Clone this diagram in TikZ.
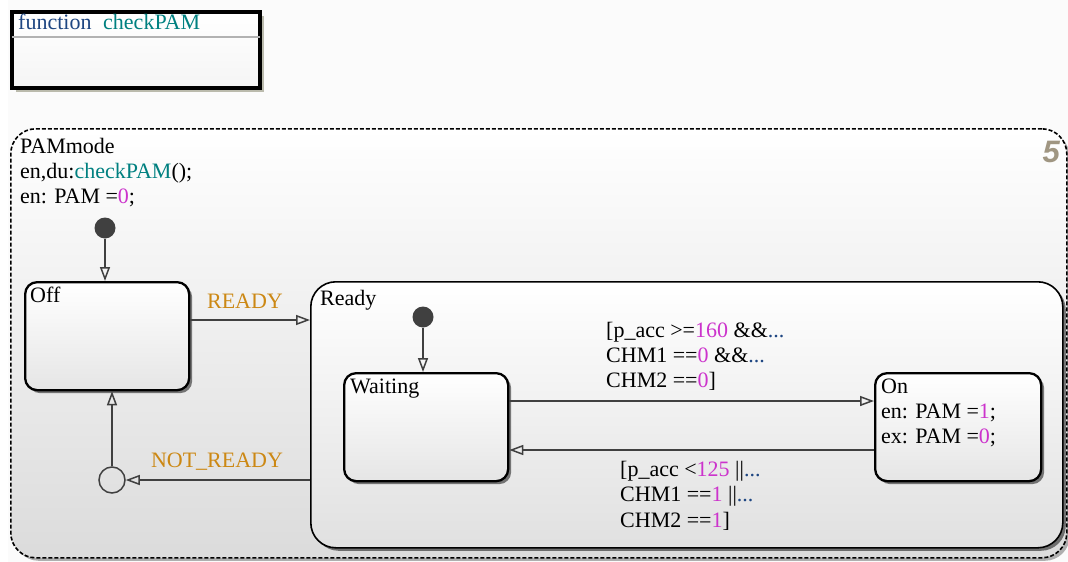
\documentclass[tikz,border=0pt]{standalone}
\usepackage{fontspec}
\setmainfont{Liberation Serif}
\setsansfont{Liberation Sans}
\usetikzlibrary{arrows.meta,shadows,calc}
\definecolor{numc}{RGB}{204,51,204}
\definecolor{dotc}{RGB}{30,70,130}
\definecolor{fnblue}{RGB}{30,70,130}
\definecolor{fnteal}{RGB}{0,128,128}
\definecolor{evc}{RGB}{204,136,20}
\definecolor{fivec}{RGB}{160,150,130}
\definecolor{trc}{RGB}{64,64,64}
\definecolor{bgc}{RGB}{251,251,251}
\definecolor{olivesh}{RGB}{110,110,80}
\newcommand\nm[1]{\textcolor{numc}{#1}}
\newcommand\dd{\textcolor{dotc}{...}}
\begin{document}
\begin{tikzpicture}[x=1pt,y=-1pt,
  font=\fontsize{22}{25}\selectfont,
  lbl/.style={anchor=base west, inner sep=0pt},
  evlbl/.style={anchor=base, inner sep=0pt, text=evc},
  statebox/.style={draw=black, line width=2.3pt, rounded corners=12pt, anchor=north west,
    top color=white, bottom color=black!10, inner sep=0pt,
    drop shadow={shadow xshift=3pt, shadow yshift=-3pt, opacity=0.5, fill=black}},
  tr/.style={draw=trc, line width=1.5pt, -{Triangle[open, length=14pt, width=10pt]}},
  initdot/.style={circle, fill=trc, draw=none, minimum size=21pt, inner sep=0pt},
]
\useasboundingbox (0,0) rectangle (1068,562);
\fill[white] (0,0) rectangle (1068,562);
\fill[bgc] (8,0) rectangle (1068,562);

% function box
\node[draw=black, line width=4pt, minimum width=248pt, minimum height=76pt, anchor=north west,
  top color=white, bottom color=black!4, inner sep=0pt,
  drop shadow={shadow xshift=4pt, shadow yshift=-4pt, fill=olivesh, opacity=0.45}] (fbox) at (10,10) {};
\draw[black!30, line width=1.5pt] ($(fbox.north west)+(2,27)$) -- ($(fbox.north east)+(-2,27)$);
\node[lbl, text=fnblue] (fnkw) at (18,29) {function};
\node[lbl, text=fnteal] (fnname) at (103,29) {checkPAM};

% PAMmode superstate
\node[draw=black, dashed, dash pattern=on 4pt off 2pt, line width=1.6pt, rounded corners=25pt,
  anchor=north west, minimum width=1056pt, minimum height=429pt, inner sep=0pt,
  top color=white, bottom color=black!14,
  drop shadow={shadow xshift=3pt, shadow yshift=-3pt, opacity=0.3, fill=black}] (pam) at (10,128) {};
\node[lbl] (pamname) at (20,153) {PAMmode};
\node[lbl] (pamdu) at (20,178) {en,du:\textcolor{fnteal}{checkPAM}();};
\node[lbl] (pamen) at (20,203) {en: PAM =\nm{0};};
\node[anchor=base east, inner sep=0pt, text=fivec, font=\fontsize{31}{31}\sffamily\bfseries\itshape] (num) at (1060,162) {5};

% Off
\node[statebox, minimum width=164pt, minimum height=108pt] (off) at (24,281) {};
\node[lbl] (offl) at (30,302) {Off};

% Ready
\node[draw=black, line width=1.6pt, rounded corners=25pt, anchor=north west,
  minimum width=752pt, minimum height=266pt, inner sep=0pt,
  top color=white, bottom color=black!12,
  drop shadow={shadow xshift=3pt, shadow yshift=-3pt, opacity=0.5, fill=black}] (ready) at (310,281) {};
\node[lbl] (readyl) at (320,305) {Ready};

% Waiting
\node[statebox, minimum width=164pt, minimum height=108pt] (waiting) at (343,372) {};
\node[lbl] (waitl) at (350,393) {Waiting};

% On
\node[statebox, minimum width=166pt, minimum height=108pt] (on) at (874,372) {};
\node[lbl] (onl) at (881,393) {On};
\node[lbl] (onen) at (881,418) {en: PAM =\nm{1};};
\node[lbl] (onex) at (881,443) {ex: PAM =\nm{0};};

% initial transitions
\node[initdot] (init1) at (105,228) {};
\draw[tr] (init1) -- (init1 |- off.north);
\node[initdot] (init2) at (423,317) {};
\draw[tr] (init2) -- (init2 |- waiting.north);

% READY
\coordinate (r1) at ($(off.north east)+(0,39)$);
\draw[tr] (r1) -- (r1 -| ready.west);
\node[evlbl] (readyev) at (245,308) {READY};

% Waiting -> On
\coordinate (w1) at ($(waiting.north east)+(0,29)$);
\draw[tr] (w1) -- (w1 -| on.west);
\node[lbl] (g1a) at (606,337) {[p\_acc >=\nm{160} \&\&\dd};
\node[lbl] (g1b) at (606,362) {CHM1 ==\nm{0} \&\&\dd};
\node[lbl] (g1c) at (606,387) {CHM2 ==\nm{0}]};

% On -> Waiting
\coordinate (o1) at ($(on.north west)+(0,78)$);
\draw[tr] (o1) -- (o1 -| waiting.east);
\node[lbl] (g2a) at (620,476) {[p\_acc <\nm{125} ||\dd};
\node[lbl] (g2b) at (620,501) {CHM1 ==\nm{1} ||\dd};
\node[lbl] (g2c) at (620,527) {CHM2 ==\nm{1}]};

% NOT_READY via junction
\node[circle, draw=trc, line width=1.5pt, fill=none, minimum size=26pt, inner sep=0pt] (junc) at (112,480) {};
\draw[tr] (junc.east -| ready.west) -- (junc.east);
\draw[tr] (junc.north) -- (junc.north |- off.south);
\node[evlbl] (notready) at (217,467) {NOT\_READY};
\end{tikzpicture}
\end{document}
